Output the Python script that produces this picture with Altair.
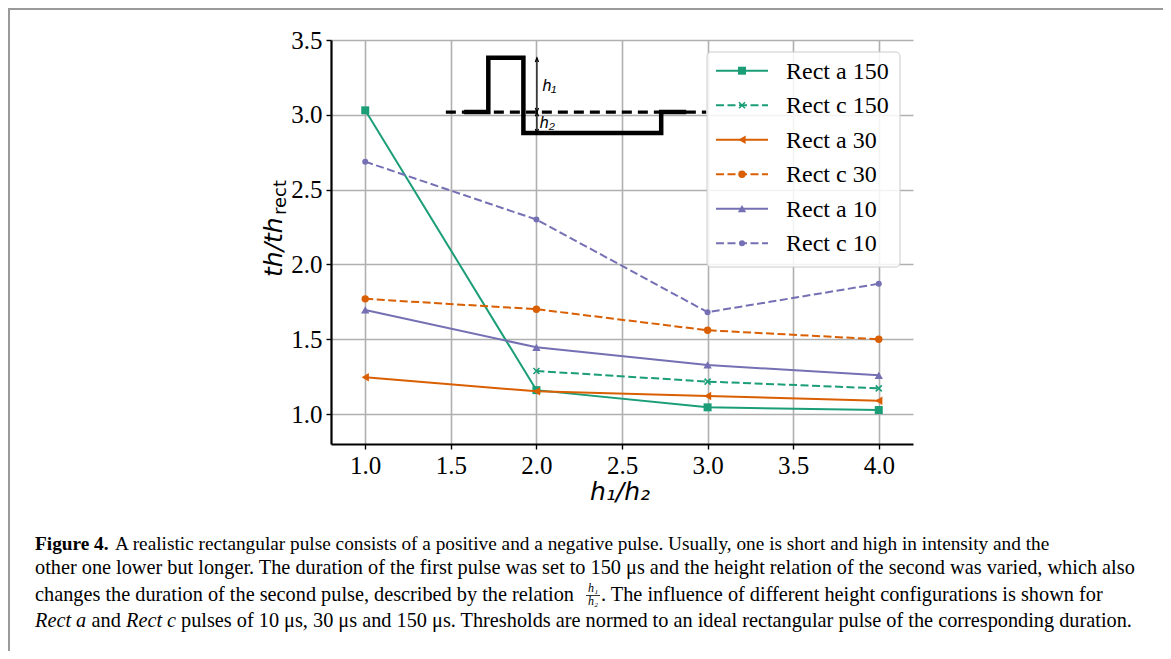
import altair as alt
import pandas as pd

# ---------------- data ----------------
h_ratio = [1.0, 2.0, 3.0, 4.0]
series_names = ["Rect a 150", "Rect c 150", "Rect a 30", "Rect c 30", "Rect a 10", "Rect c 10"]
rect_a_150 = [3.03, 1.16, 1.045, 1.027]
rect_c_150 = [None, 1.288, 1.217, 1.172]
rect_a_30 = [1.246, 1.152, 1.121, 1.089]
rect_c_30 = [1.770, 1.701, 1.560, 1.500]
rect_a_10 = [1.696, 1.446, 1.328, 1.259]
rect_c_10 = [2.687, 2.300, 1.681, 1.871]
series_values = [rect_a_150, rect_c_150, rect_a_30, rect_c_30, rect_a_10, rect_c_10]

x_ticks = [1.0, 1.5, 2.0, 2.5, 3.0, 3.5, 4.0]
y_ticks = [1.0, 1.5, 2.0, 2.5, 3.0, 3.5]

# schematic pulse inset (in data units)
pulse_x = [1.578, 1.719, 1.719, 1.924, 1.924, 2.729, 2.729, 2.875]
pulse_y = [3.018, 3.018, 3.381, 3.381, 2.878, 2.878, 3.018, 3.018]
base_x = [1.471, 2.992]
base_y = [3.018, 3.018]
arrow_x = [2.003, 2.003]
arrow_lo = [3.018, 2.878]
arrow_hi = [3.381, 3.018]
h_labels = ["h\u2081", "h\u2082"]
h_label_x = [2.035, 2.020]
h_label_y = [3.19, 2.945]

caption_lines = [
    "A realistic rectangular pulse consists of a positive and a negative pulse. Usually, one is short and high in intensity and the",
    "other one lower but longer. The duration of the first pulse was set to 150 \u03bcs and the height relation of the second was varied, which also",
    "changes the duration of the second pulse, described by the relation",
    ". The influence of different height configurations is shown for",
    "pulses of 10 \u03bcs, 30 \u03bcs and 150 \u03bcs. Thresholds are normed to an ideal rectangular pulse of the corresponding duration.",
]

# ---------------- styling ----------------
GREEN, ORANGE, PURPLE = "#1b9e77", "#d95f02", "#7570b3"
DASH = [8, 3.5]
XPATH = "M-1,-1L1,1M-1,1L1,-1"
styles = [
    dict(color=GREEN, dash=None, shape="square", size=64, filled=True),
    dict(color=GREEN, dash=DASH, shape=XPATH, size=36, filled=False),
    dict(color=ORANGE, dash=None, shape="triangle-left", size=70, filled=True),
    dict(color=ORANGE, dash=DASH, shape="circle", size=55, filled=True),
    dict(color=PURPLE, dash=None, shape="triangle-up", size=70, filled=True),
    dict(color=PURPLE, dash=DASH, shape="circle", size=36, filled=True),
]

OX, OY = 331, 40          # page position of the plot origin
W, H = 582, 404           # plot area

rows = []
for name, vals in zip(series_names, series_values):
    for x, v in zip(h_ratio, vals):
        if v is not None:
            rows.append({"series": name, "x": x, "y": v})
df = pd.DataFrame(rows)

xs = alt.Scale(domain=[0.8, 4.2], nice=False, zero=False)
ys = alt.Scale(domain=[0.8, 3.5], nice=False, zero=False)
x_axis = alt.Axis(values=x_ticks, format=".1f", title=None, labelFlush=False, grid=True)
y_axis = alt.Axis(values=y_ticks, format=".1f", title=None, labelFlush=False, grid=True)
X = alt.X("x:Q", scale=xs, axis=x_axis)
Y = alt.Y("y:Q", scale=ys, axis=y_axis)

one = pd.DataFrame({"k": [0]})


def page_text(s, px, py, **kw):
    opts = dict(align="left", baseline="alphabetic", color="black")
    opts.update(kw)
    return alt.Chart(one).mark_text(text=s, **opts).encode(
        x=alt.value(px - OX), y=alt.value(py - OY))


layers = []

# inset schematic
pulse_df = pd.DataFrame({"x": pulse_x, "y": pulse_y, "i": list(range(len(pulse_x)))})
base_df = pd.DataFrame({"x": base_x, "y": base_y, "i": [0, 1]})
layers.append(alt.Chart(base_df).mark_line(color="black", strokeWidth=3.2, strokeDash=[10, 6]).encode(
    x=X, y=Y, order="i:Q"))
layers.append(alt.Chart(pulse_df).mark_line(color="black", strokeWidth=4.5, strokeJoin="miter", strokeCap="butt").encode(
    x=X, y=Y, order="i:Q"))
arrow_df = pd.DataFrame({"x": arrow_x, "y": arrow_lo, "y2": arrow_hi})
layers.append(alt.Chart(arrow_df).mark_rule(color="black", strokeWidth=1.2).encode(
    x=X, y=Y, y2="y2:Q"))
up_path = "M-0.6,1.5L0,0L0.6,1.5"
down_path = "M-0.6,-1.5L0,0L0.6,-1.5"
layers.append(alt.Chart(arrow_df).mark_point(shape=up_path, filled=False, color="black", strokeWidth=1.2,
                                             size=30, opacity=1).encode(x=X, y=alt.Y("y2:Q", scale=ys, axis=y_axis)))
layers.append(alt.Chart(arrow_df).mark_point(shape=down_path, filled=False, color="black", strokeWidth=1.2,
                                             size=30, opacity=1).encode(x=X, y=Y))
hl_df = pd.DataFrame({"x": h_label_x, "y": h_label_y, "t": h_labels})
layers.append(alt.Chart(hl_df).mark_text(align="left", baseline="middle", font="Liberation Sans", fontStyle="italic",
                                         fontSize=16, color="black").encode(x=X, y=Y, text="t:N"))

# data series
for name, st in zip(series_names, styles):
    base = alt.Chart(df).transform_filter(alt.datum.series == name)
    lkw = dict(color=st["color"], strokeWidth=2)
    if st["dash"]:
        lkw["strokeDash"] = st["dash"]
    layers.append(base.mark_line(**lkw).encode(x=X, y=Y))
    pkw = dict(shape=st["shape"], size=st["size"], color=st["color"], opacity=1, filled=st["filled"])
    pkw["strokeWidth"] = 1.6 if not st["filled"] else 0
    layers.append(base.mark_point(**pkw).encode(x=X, y=Y))

# legend
layers.append(alt.Chart(one).mark_rect(fill="white", fillOpacity=0.85, stroke="#cccccc", strokeWidth=1,
                                       cornerRadius=4).encode(
    x=alt.value(707 - OX), x2=alt.value(900 - OX), y=alt.value(52 - OY), y2=alt.value(267 - OY)))
for i, (name, st) in enumerate(zip(series_names, styles)):
    yy = 70.7 + i * 34.5 - OY
    rkw = dict(color=st["color"], strokeWidth=2)
    if st["dash"]:
        rkw["strokeDash"] = st["dash"]
    layers.append(alt.Chart(one).mark_rule(**rkw).encode(
        x=alt.value(716 - OX), x2=alt.value(768 - OX), y=alt.value(yy)))
    pkw = dict(shape=st["shape"], size=st["size"], color=st["color"], opacity=1, filled=st["filled"])
    pkw["strokeWidth"] = 1.6 if not st["filled"] else 0
    layers.append(alt.Chart(one).mark_point(**pkw).encode(x=alt.value(742 - OX), y=alt.value(yy)))
    layers.append(alt.Chart(one).mark_text(text=name, align="left", baseline="middle", font="Liberation Serif",
                                           fontSize=24, color="black").encode(
        x=alt.value(786 - OX), y=alt.value(yy + 1)))

# axis titles
layers.append(page_text("h\u2081/h\u2082", 620, 500, align="center", font="DejaVu Sans", fontStyle="italic",
                        fontSize=25))
layers.append(page_text("th/th", 282, 277, angle=270, font="DejaVu Sans", fontStyle="italic", fontSize=25))
layers.append(page_text("rect", 286, 215, angle=270, font="DejaVu Sans", fontSize=18))

# figure frame
layers.append(alt.Chart(one).mark_rect(fill=None, stroke="#9a9a9a", strokeWidth=2).encode(
    x=alt.value(9 - OX), x2=alt.value(1164 - OX), y=alt.value(9 - OY), y2=alt.value(720 - OY)))

# caption
CF = "Liberation Serif"
CS1 = 19.3
CS = 20.3
layers.append(page_text("Figure 4.", 35, 550, font=CF, fontSize=CS1, fontWeight="bold"))
layers.append(page_text(caption_lines[0], 115, 550, font=CF, fontSize=CS1))
layers.append(page_text(caption_lines[1], 35, 574, font=CF, fontSize=CS))
layers.append(page_text(caption_lines[2], 35, 601, font=CF, fontSize=CS))
layers.append(page_text("h\u2081", 593, 592, align="center", font=CF, fontSize=12, fontStyle="italic"))
layers.append(alt.Chart(one).mark_rule(color="black", strokeWidth=0.8).encode(
    x=alt.value(586 - OX), x2=alt.value(600 - OX), y=alt.value(595.5 - OY)))
layers.append(page_text("h\u2082", 593, 605, align="center", font=CF, fontSize=12, fontStyle="italic"))
layers.append(page_text(caption_lines[3], 601, 601, font=CF, fontSize=CS))
layers.append(page_text("Rect a", 35, 627, font=CF, fontSize=CS, fontStyle="italic"))
layers.append(page_text("and", 91.5, 627, font=CF, fontSize=CS))
layers.append(page_text("Rect c", 126, 627, font=CF, fontSize=CS, fontStyle="italic"))
layers.append(page_text(caption_lines[4], 181, 627, font=CF, fontSize=CS))

chart = alt.layer(*layers).properties(
    width=W, height=H,
    padding={"left": OX - 8, "top": OY - 8, "right": 1155 - (OX - 8) - W, "bottom": 643 - (OY - 8) - H},
    autosize=alt.AutoSizeParams(type="none"),
    background="white",
).configure_axis(
    domainColor="black", domainWidth=2.2, tickColor="black", tickWidth=1.4, tickSize=5,
    labelFont="Liberation Serif", labelFontSize=25, labelColor="black", labelPadding=4,
    gridColor="#b0b0b0", gridWidth=1.6, labelOverlap=False,
).configure_view(stroke=None)

chart.save("out.html", embed_options={"renderer": "svg", "actions": False})
